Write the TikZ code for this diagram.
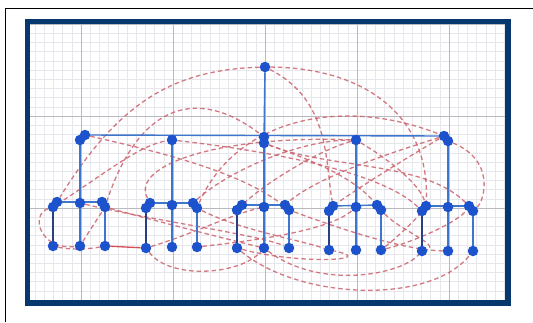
\documentclass[tikz,border=0pt]{standalone}
\usepackage{tikz}
\usetikzlibrary{backgrounds}
\definecolor{DotBlue}{RGB}{28,82,204}
\definecolor{TreeBlue}{RGB}{62,118,206}
\definecolor{TreeNavy}{RGB}{40,64,130}
\definecolor{FrameNavy}{RGB}{6,56,110}
\definecolor{DashRed}{RGB}{204,98,108}
\definecolor{GridMinor}{RGB}{230,231,236}
\definecolor{GridMajor}{RGB}{184,186,192}
\tikzset{
  vtx/.style={circle,fill=DotBlue,inner sep=0pt,minimum size=10.5pt},
  tree/.style={draw=TreeBlue,line width=1.4pt},
  treedark/.style={draw=TreeNavy,line width=1.4pt},
  tie/.style={draw=DashRed,line width=1.3pt,dash pattern=on 4.5pt off 3pt,opacity=0.85},
  tiesolid/.style={draw=DashRed!80!red,line width=1.3pt}
}

\begin{document}
\begin{tikzpicture}[x=1pt,y=-1pt]
\useasboundingbox (0,0) rectangle (533,322);
% root and first level
\node[vtx] (r) at (265,67) {};
\node[vtx] (a1) at (80,140) {};
\node[vtx] (a1b) at (85,135) {};
\node[vtx] (a2) at (172,140) {};
\node[vtx] (a3) at (264,137) {};
\node[vtx] (a3b) at (264,143) {};
\node[vtx] (a4) at (356,140) {};
\node[vtx] (a5) at (444,136) {};
\node[vtx] (a5b) at (448,141) {};
% group 1
\node[vtx] (tl1) at (53,207) {};
\node[vtx] (tl1b) at (57,202) {};
\node[vtx] (tm1) at (80,203) {};
\node[vtx] (tr1) at (102,202) {};
\node[vtx] (tr1b) at (105,207) {};
\node[vtx] (bl1) at (53,246) {};
\node[vtx] (bm1) at (80,246) {};
\node[vtx] (br1) at (105,246) {};
% group 2
\node[vtx] (tl2) at (146,208) {};
\node[vtx] (tl2b) at (150,203) {};
\node[vtx] (tm2) at (172,205) {};
\node[vtx] (tr2) at (193,203) {};
\node[vtx] (tr2b) at (197,208) {};
\node[vtx] (bl2) at (146,248) {};
\node[vtx] (bm2) at (172,247) {};
\node[vtx] (br2) at (197,247) {};
% group 3
\node[vtx] (tl3) at (237,210) {};
\node[vtx] (tl3b) at (242,205) {};
\node[vtx] (tm3) at (264,207) {};
\node[vtx] (tr3) at (285,205) {};
\node[vtx] (tr3b) at (289,210) {};
\node[vtx] (bl3) at (237,248) {};
\node[vtx] (bm3) at (264,248) {};
\node[vtx] (br3) at (289,248) {};
% group 4
\node[vtx] (tl4) at (329,211) {};
\node[vtx] (tl4b) at (333,206) {};
\node[vtx] (tm4) at (356,207) {};
\node[vtx] (tr4) at (377,205) {};
\node[vtx] (tr4b) at (381,210) {};
\node[vtx] (bl4) at (329,250) {};
\node[vtx] (bm4) at (356,250) {};
\node[vtx] (br4) at (381,250) {};
% group 5
\node[vtx] (tl5) at (422,211) {};
\node[vtx] (tl5b) at (426,206) {};
\node[vtx] (tm5) at (448,207) {};
\node[vtx] (tr5) at (469,206) {};
\node[vtx] (tr5b) at (473,211) {};
\node[vtx] (bl5) at (422,251) {};
\node[vtx] (bm5) at (448,251) {};
\node[vtx] (br5) at (473,251) {};

\begin{scope}[on background layer]
% paper, grid and frame
\fill[white] (0,0) rectangle (533,322);
\draw[black,line width=1.2pt] (5.5,322) |- (533,8.5);
\begin{scope}
\clip (27,21) rectangle (508,303);
\draw[GridMinor,line width=0.6pt,step=9.2pt,shift={(265,208)}] (-250,-200) grid (250,100);
\draw[GridMajor,line width=0.6pt,step=92pt,shift={(265,208)}] (-250,-200) grid (250,100);
\end{scope}
\draw[FrameNavy,line width=5.5pt] (27.5,21.5) rectangle (508,303);
% dashed ties
\draw[tie] (r) .. controls (175,70) and (120,100) .. (tl1b);
\draw[tie] (r) .. controls (370,68) and (430,120) .. (tl5b);
\draw[tie] (r) .. controls (330,100) and (325,160) .. (tl4b);
\draw[tie] (tr2b) .. controls (235,120) and (340,95) .. (a5);
\draw[tie] (tr1b) .. controls (140,100) and (200,88) .. (a3);
\draw[tie] (tl1) .. controls (110,170) and (140,145) .. (a2);
\draw[tie] (a1b) .. controls (150,150) and (240,170) .. (tr3b);
\draw[tie] (a2) .. controls (260,150) and (380,170) .. (tl5);
\draw[tie] (a3b) .. controls (330,170) and (430,160) .. (tr5b);
\draw[tie] (a4) .. controls (320,150) and (270,180) .. (tl3b);
\draw[tie] (a5) .. controls (400,150) and (320,175) .. (tr3);
\draw[tie] (tl2b) .. controls (130,165) and (220,135) .. (a4);
\draw[tiesolid] (br1) -- (bl2);
\draw[tie] (bl2) .. controls (170,280) and (240,275) .. (bm3);
\draw[tie] (tl1) .. controls (30,215) and (40,250) .. (bm1);
\draw[tie] (bm1) .. controls (90,230) and (100,215) .. (tr1b);
\draw[tie] (bl1) .. controls (70,250) and (90,249) .. (br1);
\draw[tie] (bl3) .. controls (300,300) and (430,305) .. (br5);
\draw[tie] (bm3) .. controls (320,290) and (400,275) .. (bl5);
\draw[tie] (tr1b) .. controls (160,222) and (230,240) .. (bm3);
\draw[tie] (bl2) .. controls (190,235) and (230,215) .. (tm3);
\draw[tie] (br4) .. controls (400,235) and (420,215) .. (tl5b);
\draw[tie] (br4) .. controls (420,240) and (460,220) .. (tr5);
\draw[tie] (tr3b) .. controls (330,225) and (400,250) .. (bm5);
\draw[tie] (a5b) .. controls (495,160) and (485,200) .. (tr5b);
\draw[tie] (a5) .. controls (420,150) and (370,180) .. (tl4b);
\draw[tie] (a4) .. controls (390,160) and (420,185) .. (tl5b);
\draw[tie] (a3b) .. controls (310,160) and (350,175) .. (tr4);
\draw[tie] (tr2) .. controls (230,170) and (300,140) .. (a4);
\draw[tie] (tr2b) .. controls (240,230) and (300,240) .. (bl4);
\draw[tie] (br2) .. controls (260,240) and (330,230) .. (tm4);
\draw[tie] (bl3) .. controls (300,265) and (380,260) .. (bl4);
\draw[tie] (tm1) .. controls (150,220) and (260,235) .. (br3);
\draw[tie] (tr4b) .. controls (400,230) and (440,245) .. (bl5);
% tree edges
\draw[tree] (r) -- (a3);
\draw[tree] (a1b.center) -- (a5.center);
\draw[tree] (a1) -- (tm1);
\draw[tree] (a2) -- (tm2);
\draw[tree] (a3b) -- (tm3);
\draw[tree] (a4) -- (tm4);
\draw[tree] (a5b) -- (tm5);
\draw[tree] (tl1b.center) -- (tr1.center);
\draw[tree] (tl2b.center) -- (tr2.center);
\draw[tree] (tl3b.center) -- (tr3.center);
\draw[tree] (tl4b.center) -- (tr4.center);
\draw[tree] (tl5b.center) -- (tr5.center);
\draw[treedark] (tl1) -- (bl1);
\draw[treedark] (tl2) -- (bl2);
\draw[treedark] (tl3) -- (bl3);
\draw[treedark] (tl4) -- (bl4);
\draw[treedark] (tl5) -- (bl5);
\draw[tree] (tm1) -- (bm1);
\draw[tree] (tm2) -- (bm2);
\draw[tree] (tm3) -- (bm3);
\draw[tree] (tm4) -- (bm4);
\draw[tree] (tm5) -- (bm5);
\draw[tree] (tr1b) -- (br1);
\draw[tree] (tr2b) -- (br2);
\draw[tree] (tr3b) -- (br3);
\draw[tree] (tr4b) -- (br4);
\draw[tree] (tr5b) -- (br5);
\end{scope}
\end{tikzpicture}
\end{document}
